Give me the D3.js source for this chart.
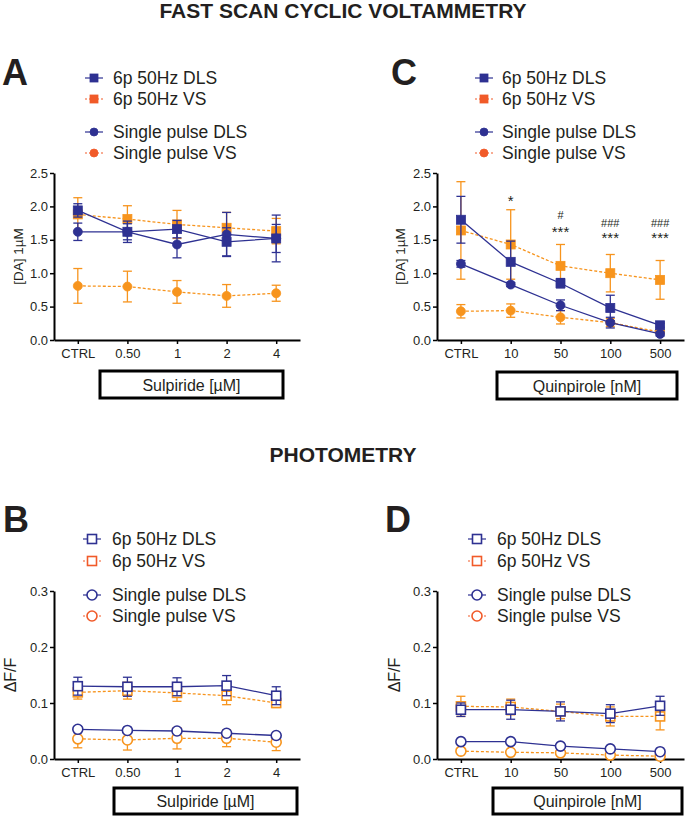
<!DOCTYPE html>
<html>
<head>
<meta charset="utf-8">
<script src="https://cdn.jsdelivr.net/npm/d3@7"></script>
<style>
  body { margin: 0; background: #fff; }
  svg text { font-family: "Liberation Sans", Arial, sans-serif; fill: #231f20; }
</style>
</head>
<body>
<div id="fig"></div>
<script>
// categories
var sulpCats = ["CTRL", "0.50", "1", "2", "4"];
var quinCats = ["CTRL", "10", "50", "100", "500"];

// FSCV, sulpiride  [mean, sem]
var fscvSulp6pDLS = [[1.94, 0.10], [1.62, 0.16], [1.66, 0.13], [1.47, 0.21], [1.52, 0.21]];
var fscvSulp6pVS = [[1.88, 0.25], [1.81, 0.20], [1.73, 0.21], [1.68, 0.23], [1.63, 0.19]];
var fscvSulpSpDLS = [[1.62, 0.13], [1.62, 0.12], [1.43, 0.20], [1.58, 0.33], [1.52, 0.35]];
var fscvSulpSpVS = [[0.81, 0.26], [0.80, 0.23], [0.72, 0.17], [0.66, 0.17], [0.70, 0.12]];

// FSCV, quinpirole
var fscvQuin6pDLS = [[1.80, 0.35], [1.17, 0.31], [0.85, 0.07], [0.48, 0.19], [0.22, 0.03]];
var fscvQuin6pVS = [[1.64, 0.73], [1.43, 0.52], [1.11, 0.32], [1.00, 0.28], [0.90, 0.29]];
var fscvQuinSpDLS = [[1.14, 0.05], [0.83, 0.03], [0.52, 0.08], [0.26, 0.08], [0.09, 0.03]];
var fscvQuinSpVS = [[0.43, 0.10], [0.44, 0.10], [0.34, 0.10], [0.26, 0.06], [0.12, 0.02]];

// photometry, sulpiride
var photSulp6pDLS = [[0.130, 0.016], [0.129, 0.017], [0.129, 0.016], [0.131, 0.018], [0.113, 0.016]];
var photSulp6pVS = [[0.119, 0.012], [0.122, 0.015], [0.118, 0.015], [0.113, 0.016], [0.100, 0.008]];
var photSulpSpDLS = [[0.053, 0.004], [0.051, 0.004], [0.050, 0.004], [0.046, 0.004], [0.042, 0.004]];
var photSulpSpVS = [[0.036, 0.016], [0.034, 0.018], [0.037, 0.019], [0.037, 0.015], [0.030, 0.015]];

// photometry, quinpirole
var photQuin6pDLS = [[0.088, 0.012], [0.088, 0.017], [0.085, 0.017], [0.081, 0.016], [0.095, 0.017]];
var photQuin6pVS = [[0.094, 0.018], [0.093, 0.014], [0.085, 0.013], [0.076, 0.017], [0.076, 0.024]];
var photQuinSpDLS = [[0.031, 0.003], [0.031, 0.003], [0.023, 0.003], [0.018, 0.003], [0.013, 0.003]];
var photQuinSpVS = [[0.014, 0.003], [0.012, 0.003], [0.011, 0.003], [0.007, 0.003], [0.005, 0.003]];

// significance marks in panel C (category, text, y in data units)
var statMarks = [
  ["10", "*", 2.0],
  ["50", "#", 1.81], ["50", "***", 1.54],
  ["100", "###", 1.69], ["100", "***", 1.45],
  ["500", "###", 1.69], ["500", "***", 1.45]
];

var fscvTicks = [0, 0.5, 1, 1.5, 2, 2.5];
var photTicks = [0, 0.1, 0.2, 0.3];
var legendNames = ["6p 50Hz DLS", "6p 50Hz VS", "Single pulse DLS", "Single pulse VS"];

var BLUE = "#2e3192", ORANGE = "#f7941d", LEG_ORANGE = "#f15a29";

var svg = d3.select("#fig").append("svg").attr("width", 685).attr("height", 816);

svg.append("text").attr("x", 343).attr("y", 18).attr("text-anchor", "middle")
  .style("font-size", "21px").style("font-weight", "bold").text("FAST SCAN CYCLIC VOLTAMMETRY");
svg.append("text").attr("x", 343).attr("y", 462).attr("text-anchor", "middle")
  .style("font-size", "21px").style("font-weight", "bold").text("PHOTOMETRY");

function marker(sel, shape, color, open, size) {
  if (shape == "square") {
    return sel.append("rect").attr("x", -size / 2).attr("y", -size / 2)
      .attr("width", size).attr("height", size)
      .attr("fill", open ? "#fff" : color).attr("stroke", color).attr("stroke-width", open ? 1.6 : 0.8);
  }
  return sel.append("circle").attr("r", size / 2)
    .attr("fill", open ? "#fff" : color).attr("stroke", color).attr("stroke-width", open ? 1.6 : 0.8);
}

function panel(p) {
  var g = svg.append("g");
  var x = d3.scalePoint().domain(p.cats).range([p.left, p.right]).padding(0.48);
  var y = d3.scaleLinear().domain([0, p.yMax]).range([p.bottom, p.top]);

  // letter
  svg.append("text").attr("x", p.letterX).attr("y", p.letterY)
    .style("font-size", "36px").style("font-weight", "bold").text(p.letter);

  // axes
  var ya = g.append("g").attr("transform", "translate(" + p.left + ",0)")
    .call(d3.axisLeft(y).tickValues(p.ticks).tickFormat(d3.format(".1f")).tickSize(4).tickSizeOuter(0).tickPadding(2));
  var xa = g.append("g").attr("transform", "translate(0," + p.bottom + ")")
    .call(d3.axisBottom(x).tickSize(4).tickSizeOuter(0).tickPadding(5));
  [ya, xa].forEach(function (a) {
    a.select(".domain").attr("stroke", "#000").attr("stroke-width", 2);
    a.selectAll(".tick line").attr("stroke", "#000").attr("stroke-width", 1.5);
    a.selectAll(".tick text").style("font-size", "13px").attr("fill", "#231f20");
  });

  g.append("text").attr("transform", "translate(" + p.yLabelX + "," + ((p.top + p.bottom) / 2) + ") rotate(-90)")
    .attr("text-anchor", "middle").style("font-size", p.yLabelSize).text(p.yLabel);

  // series
  p.series.forEach(function (s) {
    var sg = g.append("g");
    var pts = s.data.map(function (d, i) { return { c: p.cats[i], m: d[0], e: d[1] }; });
    var eb = sg.selectAll(".eb").data(pts).enter().append("g").attr("stroke", s.color).attr("stroke-width", 1.3);
    eb.append("line").attr("x1", function (d) { return x(d.c); }).attr("x2", function (d) { return x(d.c); })
      .attr("y1", function (d) { return y(d.m - d.e); }).attr("y2", function (d) { return y(d.m + d.e); });
    [-1, 1].forEach(function (k) {
      eb.append("line").attr("x1", function (d) { return x(d.c) - 4.5; }).attr("x2", function (d) { return x(d.c) + 4.5; })
        .attr("y1", function (d) { return y(d.m + k * d.e); }).attr("y2", function (d) { return y(d.m + k * d.e); });
    });
    sg.append("path").datum(pts).attr("fill", "none").attr("stroke", s.color).attr("stroke-width", 1.3)
      .attr("stroke-dasharray", s.dash ? "3,2" : null)
      .attr("d", d3.line().x(function (d) { return x(d.c); }).y(function (d) { return y(d.m); }));
    pts.forEach(function (d) {
      var mg = sg.append("g").attr("transform", "translate(" + x(d.c) + "," + y(d.m) + ")");
      marker(mg, s.shape, s.color, p.open, s.shape == "square" ? p.sq : p.ci);
    });
  });

  // legend: 6p DLS, 6p VS, single DLS, single VS
  [3, 1, 2, 0].forEach(function (si, i) {
    var s = p.series[si];
    var ly = p.legRows[i];
    var col = s.dash ? LEG_ORANGE : BLUE;
    var lg = svg.append("g").attr("transform", "translate(" + p.legX + "," + ly + ")");
    lg.append("line").attr("x1", 0).attr("x2", 18).attr("stroke", col).attr("stroke-width", 1.2)
      .attr("stroke-dasharray", s.dash ? "2,2" : null);
    marker(lg.append("g").attr("transform", "translate(9,0)"), s.shape, col, p.open, s.shape == "square" ? p.legSq : p.legCi);
    lg.append("text").attr("x", p.legTextDx).attr("y", 6).style("font-size", "17.5px").text(legendNames[i]);
  });

  // box label
  svg.append("rect").attr("x", p.box[0]).attr("y", p.box[1]).attr("width", p.box[2]).attr("height", p.box[3])
    .attr("fill", "none").attr("stroke", "#000").attr("stroke-width", 3);
  svg.append("text").attr("x", p.box[0] + p.box[2] / 2).attr("y", p.box[1] + p.box[3] / 2 + 6)
    .attr("text-anchor", "middle").style("font-size", "16px").text(p.boxText);

  return { x: x, y: y, g: g };
}

function seriesList(spVS, p6VS, spDLS, p6DLS) {
  return [
    { data: spVS, color: ORANGE, shape: "circle", dash: true },
    { data: p6VS, color: ORANGE, shape: "square", dash: true },
    { data: spDLS, color: BLUE, shape: "circle", dash: false },
    { data: p6DLS, color: BLUE, shape: "square", dash: false }
  ];
}

panel({
  letter: "A", letterX: 2, letterY: 85, cats: sulpCats, left: 54, right: 300, top: 173, bottom: 340,
  yMax: 2.5, ticks: fscvTicks, yLabel: "[DA] 1\u00b5M", yLabelX: 23, yLabelSize: "13.5px",
  series: seriesList(fscvSulpSpVS, fscvSulp6pVS, fscvSulpSpDLS, fscvSulp6pDLS),
  open: false, sq: 9, ci: 9, legSq: 8, legCi: 8,
  legX: 85, legTextDx: 28, legRows: [78, 99, 132, 153],
  box: [100, 371, 183, 27], boxText: "Sulpiride [\u00b5M]"
});

var c = panel({
  letter: "C", letterX: 391, letterY: 85, cats: quinCats, left: 437, right: 684, top: 173, bottom: 340,
  yMax: 2.5, ticks: fscvTicks, yLabel: "[DA] 1\u00b5M", yLabelX: 405, yLabelSize: "13.5px",
  series: seriesList(fscvQuinSpVS, fscvQuin6pVS, fscvQuinSpDLS, fscvQuin6pDLS),
  open: false, sq: 9, ci: 9, legSq: 8, legCi: 8,
  legX: 475, legTextDx: 27, legRows: [78, 99, 132, 153],
  box: [497, 372, 180, 27], boxText: "Quinpirole [nM]"
});

statMarks.forEach(function (m) {
  var big = m[1].indexOf("*") >= 0;
  svg.append("text").attr("x", c.x(m[0])).attr("y", c.y(m[2])).attr("text-anchor", "middle")
    .style("font-size", big ? "15px" : "11px").text(m[1]);
});

panel({
  letter: "B", letterX: 3, letterY: 532, cats: sulpCats, left: 54, right: 300, top: 591, bottom: 759,
  yMax: 0.3, ticks: photTicks, yLabel: "\u0394F/F", yLabelX: 16, yLabelSize: "16px",
  series: seriesList(photSulpSpVS, photSulp6pVS, photSulpSpDLS, photSulp6pDLS),
  open: true, sq: 9, ci: 10, legSq: 9, legCi: 10,
  legX: 83, legTextDx: 29, legRows: [539, 561, 595, 616],
  box: [114, 788, 183, 26], boxText: "Sulpiride [\u00b5M]"
});

panel({
  letter: "D", letterX: 385, letterY: 532, cats: quinCats, left: 437, right: 684, top: 591, bottom: 759,
  yMax: 0.3, ticks: photTicks, yLabel: "\u0394F/F", yLabelX: 400, yLabelSize: "16px",
  series: seriesList(photQuinSpVS, photQuin6pVS, photQuinSpDLS, photQuin6pDLS),
  open: true, sq: 9, ci: 10, legSq: 9, legCi: 10,
  legX: 468, legTextDx: 29, legRows: [539, 561, 595, 616],
  box: [493, 788, 189, 26], boxText: "Quinpirole [nM]"
});
</script>
</body>
</html>
